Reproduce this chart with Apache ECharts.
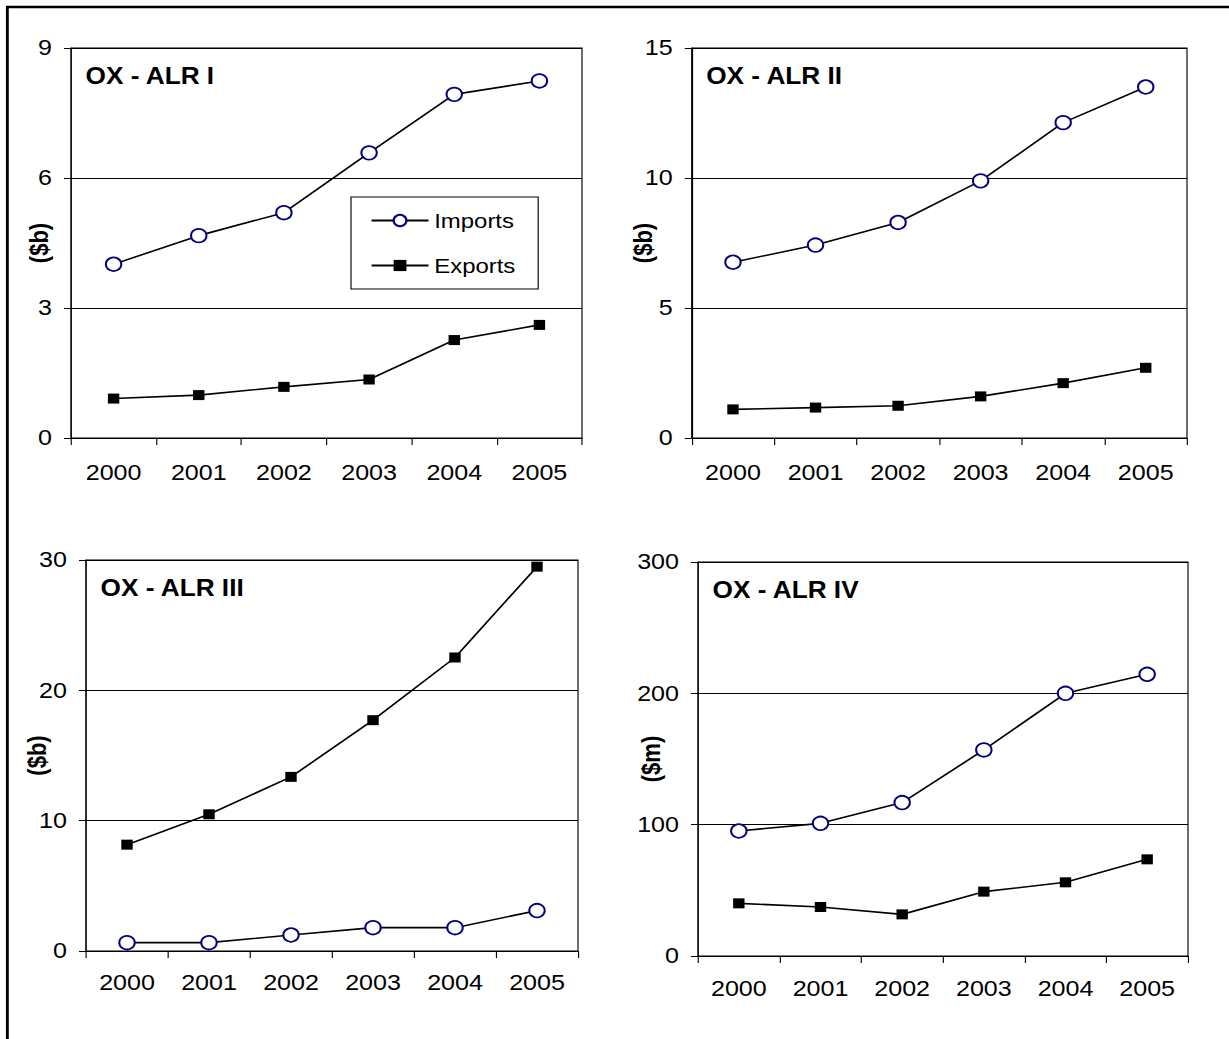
<!DOCTYPE html>
<html>
<head>
<meta charset="utf-8">
<script src="https://cdn.jsdelivr.net/npm/echarts@6/dist/echarts.min.js"></script>
<style>
html,body{margin:0;padding:0;background:#fff;overflow:hidden;}
#c{width:1078px;height:1039px;transform:scaleX(1.14);transform-origin:0 0;}
</style>
</head>
<body>
<div id="c"></div>
<script>
// ---- data ----
const years = ['2000', '2001', '2002', '2003', '2004', '2005'];
const p1Imports = [4.01, 4.67, 5.20, 6.58, 7.93, 8.24];
const p1Exports = [0.91, 0.99, 1.18, 1.35, 2.26, 2.61];
const p2Imports = [6.76, 7.42, 8.29, 9.89, 12.13, 13.50];
const p2Exports = [1.10, 1.17, 1.24, 1.60, 2.11, 2.70];
const p3Imports = [0.64, 0.64, 1.23, 1.79, 1.79, 3.10];
const p3Exports = [8.16, 10.49, 13.36, 17.71, 22.52, 29.49];
const p4Imports = [95.2, 101, 116.8, 156.9, 200, 214.5];
const p4Exports = [40.1, 37.3, 31.7, 49, 56.1, 73.6];
const panelTitles = ['OX - ALR I', 'OX - ALR II', 'OX - ALR III', 'OX - ALR IV'];
const axisNames = ['($b)', '($b)', '($b)', '($m)'];
const yMax = [9, 15, 30, 300];
const yStep = [3, 5, 10, 100];
const seriesNames = ['Imports', 'Exports'];

// ---- layout (real pixel coords; x is divided by the horizontal stretch) ----
const SX = 1.14;
const X = v => v / SX;
const panels = [
  { l: 71, r: 582, t: 48, b: 438, nameGap: 19, xMargin: 24 },
  { l: 691.7, r: 1187, t: 48, b: 438, nameGap: 36, xMargin: 24 },
  { l: 86, r: 578, t: 560, b: 951, nameGap: 36, xMargin: 21 },
  { l: 698, r: 1188, t: 562, b: 956, nameGap: 34, xMargin: 22 }
];
const importsData = [p1Imports, p2Imports, p3Imports, p4Imports];
const exportsData = [p1Exports, p2Exports, p3Exports, p4Exports];

const FONT = 'Arial, "Liberation Sans", sans-serif';

const grid = [], xAxis = [], yAxis = [], series = [], graphic = [];

panels.forEach((p, i) => {
  grid.push({
    left: X(p.l), top: p.t, width: X(p.r - p.l), height: p.b - p.t,
    show: true, borderColor: '#000', borderWidth: 1, backgroundColor: 'transparent'
  });
  xAxis.push({
    type: 'category', gridIndex: i, data: years, boundaryGap: true,
    axisLine: { show: true, lineStyle: { color: '#000', width: 1 } },
    axisTick: { show: true, length: 7, lineStyle: { color: '#000' } },
    axisLabel: { color: '#000', fontSize: 22, fontFamily: FONT, margin: p.xMargin },
    splitLine: { show: false }
  });
  yAxis.push({
    type: 'value', gridIndex: i, min: 0, max: yMax[i], interval: yStep[i],
    name: axisNames[i], nameLocation: 'middle', nameRotate: 90, nameGap: X(p.nameGap),
    nameMoveOverlap: false,
    nameTextStyle: { color: '#000', fontSize: 22, fontWeight: 'bold', fontFamily: FONT },
    axisLine: { show: true, lineStyle: { color: '#000', width: 1 } },
    axisTick: { show: true, length: X(7), lineStyle: { color: '#000' } },
    axisLabel: { color: '#000', fontSize: 22, fontFamily: FONT, margin: X(19) },
    splitLine: { show: true, lineStyle: { color: '#000', width: 1 } }
  });
  series.push({
    name: seriesNames[0], type: 'line', xAxisIndex: i, yAxisIndex: i,
    data: importsData[i], symbol: 'circle', symbolSize: 13.5,
    lineStyle: { color: '#000', width: 1.6 },
    itemStyle: { color: '#fff', borderColor: '#000080', borderWidth: 1.8 },
    z: 3
  });
  series.push({
    name: seriesNames[1], type: 'line', xAxisIndex: i, yAxisIndex: i,
    data: exportsData[i], symbol: 'rect', symbolSize: 10,
    lineStyle: { color: '#000', width: 1.6 },
    itemStyle: { color: '#000', borderColor: '#000', borderWidth: 0 },
    z: 3
  });
  graphic.push({
    type: 'text', left: X(p.l + 14.5), top: p.t + 30 - 13, z: 10,
    style: { text: panelTitles[i], fill: '#000', font: 'bold 23px ' + FONT }
  });
});

// outer frame
graphic.push({
  type: 'rect', left: X(4.5), top: 4.5, z: 0, silent: true,
  shape: { width: X(1300), height: 1100 },
  style: { fill: 'none', stroke: '#000', lineWidth: 2.5 }
});

const chart = echarts.init(document.getElementById('c'), null, { renderer: 'svg' });
chart.setOption({
  animation: false,
  backgroundColor: '#fff',
  grid, xAxis, yAxis, series, graphic,
  legend: {
    data: seriesNames, orient: 'vertical',
    left: X(351), top: 197,
    padding: [13, 20, 13, 17],
    itemWidth: 50, itemHeight: 14, itemGap: 24,
    borderColor: '#000', borderWidth: 1, backgroundColor: '#fff',
    textStyle: { color: '#000', fontSize: 21, fontFamily: FONT },
    selectedMode: false
  }
});
</script>
</body>
</html>
